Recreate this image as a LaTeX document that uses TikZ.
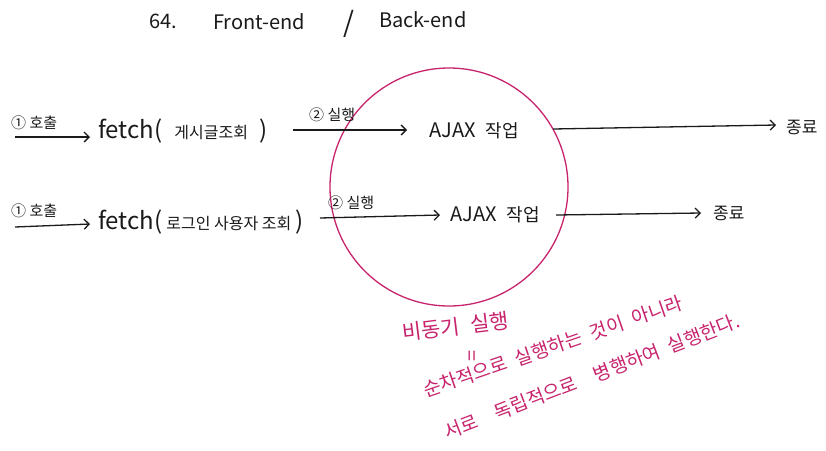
\documentclass[tikz,border=0pt]{standalone}
\usepackage{fontspec}
\setmainfont{Noto Sans CJK KR}
\usetikzlibrary{arrows.meta,shapes.geometric}
\definecolor{ink}{HTML}{1A1A1A}
\definecolor{pinkink}{HTML}{C8246E}
\tikzset{
  flow/.style={draw=ink, line width=1.3pt, -{Straight Barb[length=5pt,width=10pt]}},
  lbl/.style={text=ink, font=\fontsize{15}{17}\selectfont, inner sep=1pt, anchor=base west},
  big/.style={text=ink, font=\fontsize{24}{28}\selectfont, inner sep=1pt, anchor=west},
  mid/.style={text=ink, font=\fontsize{20}{24}\selectfont, inner sep=1pt, anchor=west},
  note/.style={text=pinkink, font=\fontsize{19}{22}\selectfont, inner sep=1pt, anchor=base west},
}
\newcommand{\kor}[1]{{\fontsize{16}{18}\selectfont #1}}
\newcommand{\korb}[1]{{\fontsize{18}{20}\selectfont #1}}
\begin{document}
\begin{tikzpicture}[x=1pt,y=-1pt]
\useasboundingbox[fill=white] (0,0) rectangle (826,450);

% title
\node[mid] (t1) at (148,21) {64.};
\node[mid] (t2) at (212,22) {Front-end};
\node[mid, font=\fontsize{28}{32}\selectfont] (t3) at (342,24) {/};
\node[mid] (t4) at (378,20) {Back-end};

% circle
\node[draw=pinkink, line width=1.3pt, ellipse, minimum width=238pt, minimum height=238pt, inner sep=0pt] (circ) at (449,187) {};

% row 1
\coordinate (s1) at (15,137);
\coordinate (g1) at (90,137);
\coordinate (h1) at (293,130);
\coordinate (k1) at (407,130);
\coordinate (m1) at (553,129);
\coordinate (n1e) at (776,125);
\node[big] (f1) at (97,131) {fetch(\enspace\kor{게시글조회}\enspace)};
\node[mid] (a1) at (428,131) {AJAX\enspace\korb{작업}};
\node[mid, font=\fontsize{17}{19}\selectfont] (e1) at (785,127) {종료};
\draw[flow] (s1) -- (g1);
\node[lbl] (c1) at (10,128) {① 호출};
\draw[flow] (h1) -- (k1);
\node[lbl] (x1) at (308,120) {② 실행};
\draw[flow] (m1) -- (n1e);

% row 2
\coordinate (s2) at (15,227);
\coordinate (g2) at (90,224);
\coordinate (h2) at (320,218);
\coordinate (k2) at (440,215);
\coordinate (m2) at (556,215);
\coordinate (n2e) at (701,213);
\node[big] (f2) at (97,222) {fetch(\thinspace\kor{로그인 사용자 조회}\thinspace)};
\node[mid] (a2) at (449,215) {AJAX\enspace\korb{작업}};
\node[mid, font=\fontsize{17}{19}\selectfont] (e2) at (712,213) {종료};
\draw[flow] (s2) -- (g2);
\node[lbl] (c2) at (10,216) {① 호출};
\draw[flow] (h2) -- (k2);
\node[lbl] (x2) at (327,208) {② 실행};
\draw[flow] (m2) -- (n2e);

% pink note
\node[note, font=\fontsize{21}{24}\selectfont, rotate=7] (p1) at (402,341) {비동기\enspace 실행};
\node[note, rotate=90, font=\fontsize{20}{22}\selectfont, anchor=center] (p2) at (474,356) {=};
\node[note, rotate=19] (p3) at (425,398) {순차적으로\enspace 실행하는\enspace 것이\enspace 아니라};
\node[note, rotate=21] (p4) at (446,440) {서로\quad 독립적으로\quad 병행하여\enspace 실행한다.};
\end{tikzpicture}
\end{document}
